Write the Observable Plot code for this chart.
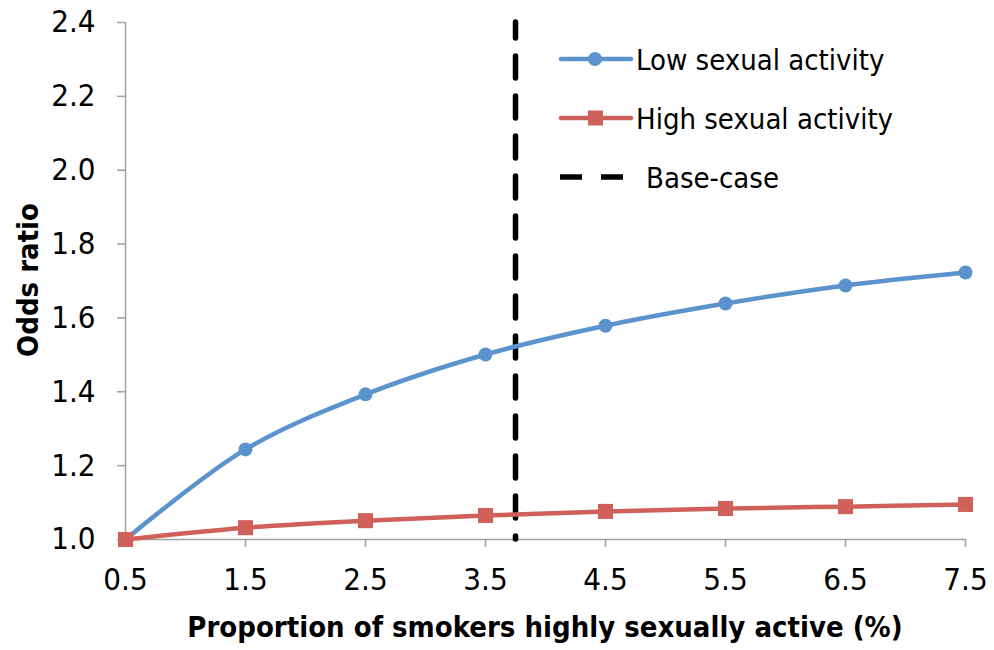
<!DOCTYPE html>
<html><head><meta charset="utf-8">
<script src="https://cdn.jsdelivr.net/npm/d3@7"></script>
<script src="https://cdn.jsdelivr.net/npm/@observablehq/plot@0.6"></script>
<style>
html,body{margin:0;padding:0;background:#fff;}
#wrap{position:relative;width:994px;height:650px;}
</style>
</head><body>
<div id="wrap"></div>
<script>
const proportions = [0.5, 1.5, 2.5, 3.5, 4.5, 5.5, 6.5, 7.5];
const lowActivity = [1.000, 1.244, 1.393, 1.501, 1.579, 1.639, 1.688, 1.723];
const highActivity = [1.000, 1.032, 1.051, 1.065, 1.076, 1.084, 1.089, 1.095];
const baseCase = 3.75;
const yTicks = [1.0, 1.2, 1.4, 1.6, 1.8, 2.0, 2.2, 2.4];
const seriesNames = ["Low sexual activity", "High sexual activity", "Base-case"];
const seriesColors = ["#5b93cd", "#d0605a", "#000000"];

const low = proportions.map((x, i) => ({x, y: lowActivity[i]}));
const high = proportions.map((x, i) => ({x, y: highActivity[i]}));
const FONT = "Tahoma, 'DejaVu Sans Condensed', 'DejaVu Sans', sans-serif";
const axisGrey = "#a0a0a0";

const chart = Plot.plot({
  width: 994, height: 650,
  marginLeft: 125, marginRight: 29, marginTop: 22, marginBottom: 111,
  style: {fontFamily: FONT, fontSize: "31px", color: "black", background: "white"},
  x: {domain: [0.5, 7.5]},
  y: {domain: [1.0, 2.4]},
  marks: [
    Plot.ruleX([0.5], {stroke: axisGrey, strokeWidth: 1.5}),
    Plot.ruleY([1.0], {stroke: axisGrey, strokeWidth: 1.5}),
    Plot.axisY({ticks: yTicks, tickFormat: d3.format(".1f"), tickSize: 8, tickPadding: 22, stroke: axisGrey, strokeWidth: 1.5, fill: "black", fontSize: 31, label: null}),
    Plot.axisX({ticks: proportions, tickFormat: d3.format(".1f"), tickSize: 8, tickPadding: 20, stroke: axisGrey, strokeWidth: 1.5, fill: "black", fontSize: 31, label: null}),
    Plot.ruleX([baseCase], {stroke: "black", strokeWidth: 5.5, strokeDasharray: "22,18", strokeDashoffset: 6, strokeLinecap: "round"}),
    Plot.line(low, {x: "x", y: "y", stroke: seriesColors[0], strokeWidth: 4.5, curve: "catmull-rom"}),
    Plot.line(high, {x: "x", y: "y", stroke: seriesColors[1], strokeWidth: 4.5, curve: "catmull-rom"}),
    Plot.dot(low, {x: "x", y: "y", r: 7, fill: seriesColors[0], symbol: "circle"}),
    Plot.dot(high, {x: "x", y: "y", r: 8.5, fill: seriesColors[1], symbol: "square"})
  ]
});

const wrap = document.getElementById("wrap");
wrap.appendChild(chart);

const svg = d3.select(chart);
// axis titles
svg.append("text").attr("x", 545).attr("y", 637)
  .attr("text-anchor", "middle").attr("font-weight", "bold").attr("font-size", 29)
  .attr("font-family", FONT).text("Proportion of smokers highly sexually active (%)");
svg.append("text").attr("transform", "translate(38,280) rotate(-90)")
  .attr("text-anchor", "middle").attr("font-weight", "bold").attr("font-size", 29)
  .attr("font-family", FONT).text("Odds ratio");

// legend
const lg = svg.append("g").attr("font-family", FONT).attr("font-size", 29).attr("text-anchor", "start");
const rows = [59, 118, 177];
seriesNames.forEach((name, i) => {
  const y = rows[i];
  const g = lg.append("g");
  if (i < 2) {
    g.append("line").attr("x1", 561).attr("x2", 631).attr("y1", y).attr("y2", y)
      .attr("stroke", seriesColors[i]).attr("stroke-width", 4.5).attr("stroke-linecap", "round");
    if (i === 0) g.append("circle").attr("cx", 595).attr("cy", y).attr("r", 7).attr("fill", seriesColors[i]);
    else g.append("rect").attr("x", 588).attr("y", y - 7.5).attr("width", 15).attr("height", 15).attr("fill", seriesColors[i]);
    g.append("text").attr("x", 636).attr("y", y + 11).text(name);
  } else {
    g.append("line").attr("x1", 560).attr("x2", 623).attr("y1", y).attr("y2", y)
      .attr("stroke", "black").attr("stroke-width", 5.5).attr("stroke-dasharray", "22,19");
    g.append("text").attr("x", 646).attr("y", y + 11).text(name);
  }
});
</script>
</body></html>
